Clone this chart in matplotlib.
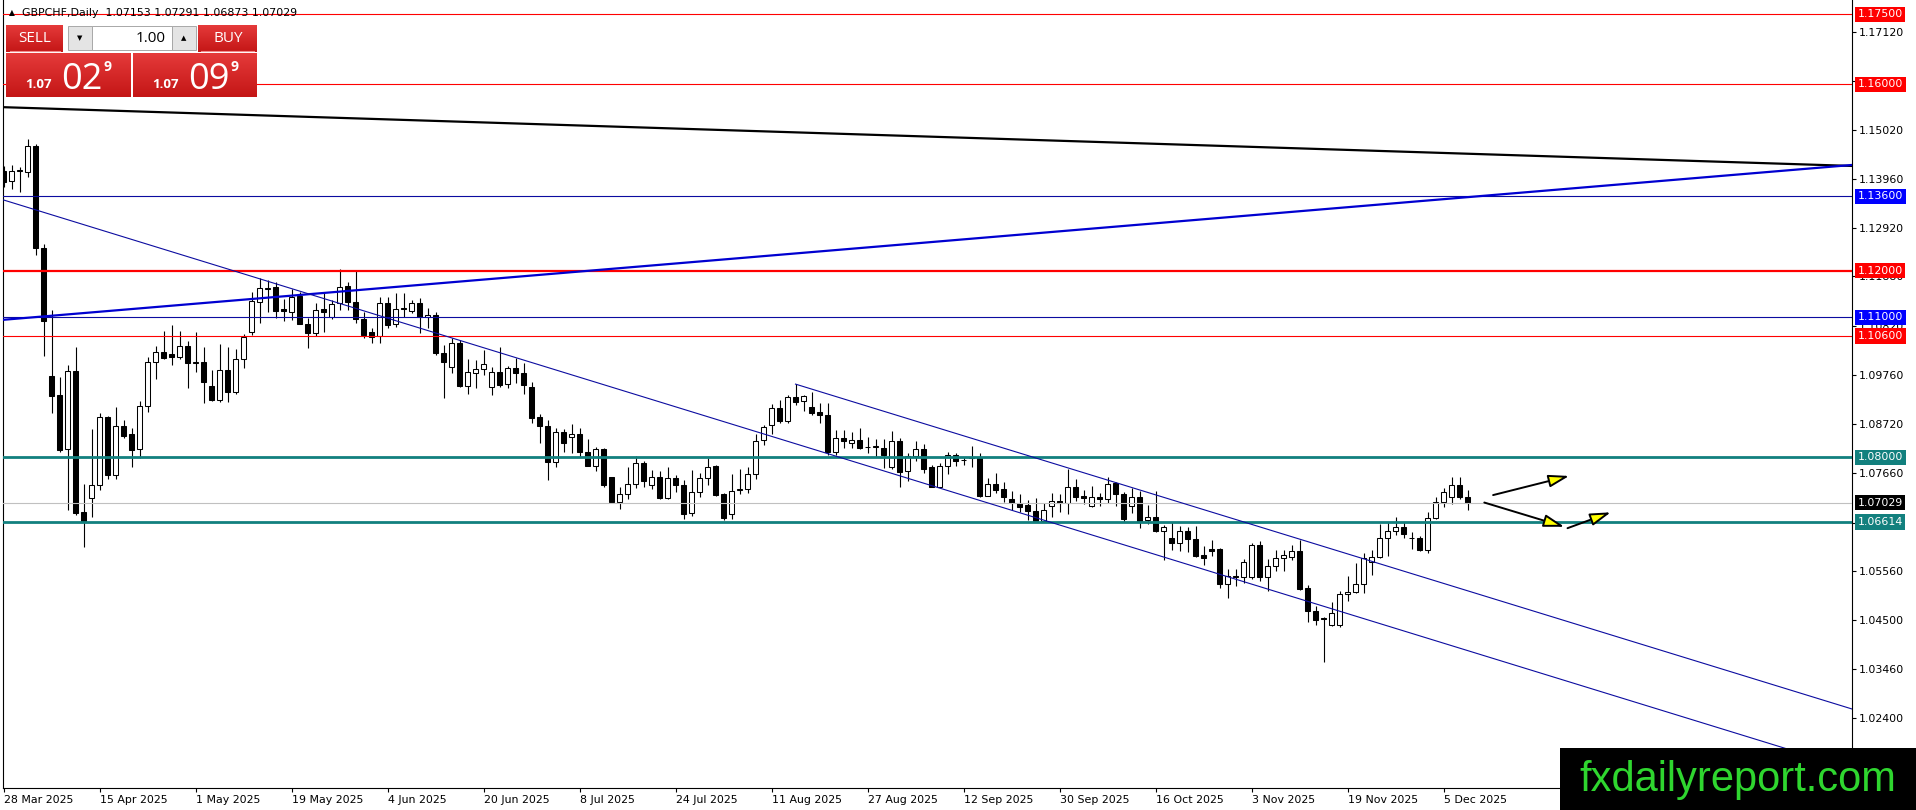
import numpy as np
import matplotlib
matplotlib.use("Agg")
import matplotlib.pyplot as plt
import matplotlib.transforms as mtransforms
from matplotlib.patches import Rectangle
from matplotlib.colors import LinearSegmentedColormap

# Daily GBPCHF bars, 28 Mar 2025 .. 10 Dec 2025
opens = [1.1415, 1.1393, 1.1414, 1.1413, 1.1468, 1.1248, 1.0974, 1.0934, 1.0817, 1.0985,
         1.0682, 1.0712, 1.0740, 1.0886, 1.0761, 1.0868, 1.0850, 1.0817, 1.0910, 1.1004,
         1.1025, 1.1022, 1.1016, 1.1039, 1.1003, 1.1005, 1.0953, 1.0923, 1.0987, 1.0941,
         1.1010, 1.1068, 1.1134, 1.1162, 1.1165, 1.1118, 1.1112, 1.1147, 1.1087, 1.1067,
         1.1118, 1.1100, 1.1130, 1.1167, 1.1134, 1.1097, 1.1068, 1.1060, 1.1130, 1.1086,
         1.1120, 1.1114, 1.1130, 1.1102, 1.1105, 1.1023, 1.0994, 1.1046, 1.0954, 1.0981,
         1.0989, 1.0950, 1.0982, 1.0957, 1.0991, 1.0980, 1.0950, 1.0886, 1.0867, 1.0791,
         1.0854, 1.0843, 1.0851, 1.0811, 1.0782, 1.0817, 1.0757, 1.0705, 1.0721, 1.0742,
         1.0788, 1.0741, 1.0758, 1.0713, 1.0755, 1.0741, 1.0681, 1.0725, 1.0755, 1.0781,
         1.0721, 1.0678, 1.0730, 1.0731, 1.0764, 1.0837, 1.0869, 1.0905, 1.0878, 1.0929,
         1.0921, 1.0907, 1.0897, 1.0891, 1.0812, 1.0841, 1.0830, 1.0837, 1.0823, 1.0823,
         1.0821, 1.0780, 1.0836, 1.0771, 1.0803, 1.0817, 1.0779, 1.0737, 1.0781, 1.0806,
         1.0794, 1.0798, 1.0800, 1.0718, 1.0743, 1.0731, 1.0710, 1.0703, 1.0698, 1.0685,
         1.0664, 1.0696, 1.0706, 1.0701, 1.0736, 1.0718, 1.0696, 1.0715, 1.0710, 1.0744,
         1.0721, 1.0696, 1.0714, 1.0666, 1.0671, 1.0643, 1.0628, 1.0617, 1.0642, 1.0625,
         1.0590, 1.0603, 1.0603, 1.0528, 1.0546, 1.0543, 1.0544, 1.0612, 1.0543, 1.0567,
         1.0585, 1.0587, 1.0599, 1.0519, 1.0471, 1.0455, 1.0440, 1.0440, 1.0506, 1.0512,
         1.0528, 1.0576, 1.0587, 1.0626, 1.0643, 1.0650, 1.0627, 1.0626, 1.0601, 1.0669,
         1.0705, 1.0714, 1.0741, 1.07153]
highs = [1.1425, 1.1427, 1.1423, 1.1482, 1.1471, 1.1258, 1.1117, 1.0972, 1.0998, 1.1037,
         1.0743, 1.0860, 1.0894, 1.0888, 1.0907, 1.0880, 1.0862, 1.0921, 1.1016, 1.1039,
         1.1072, 1.1083, 1.1072, 1.1050, 1.1068, 1.1037, 1.0987, 1.1043, 1.1036, 1.1032,
         1.1064, 1.1154, 1.1185, 1.1180, 1.1177, 1.1140, 1.1160, 1.1155, 1.1098, 1.1132,
         1.1154, 1.1137, 1.1203, 1.1177, 1.1202, 1.1112, 1.1077, 1.1144, 1.1144, 1.1152,
         1.1152, 1.1137, 1.1141, 1.1120, 1.1111, 1.1041, 1.1055, 1.1052, 1.1010, 1.1009,
         1.1030, 1.0994, 1.1036, 1.0996, 1.1014, 1.1002, 1.0961, 1.0893, 1.0880, 1.0862,
         1.0861, 1.0871, 1.0862, 1.0839, 1.0823, 1.0819, 1.0758, 1.0736, 1.0780, 1.0803,
         1.0793, 1.0773, 1.0771, 1.0779, 1.0762, 1.0751, 1.0773, 1.0766, 1.0798, 1.0783,
         1.0723, 1.0764, 1.0776, 1.0779, 1.0851, 1.0869, 1.0914, 1.0924, 1.0934, 1.0957,
         1.0934, 1.0941, 1.0916, 1.0916, 1.0859, 1.0859, 1.0855, 1.0862, 1.0843, 1.0839,
         1.0839, 1.0857, 1.0841, 1.0809, 1.0836, 1.0829, 1.0783, 1.0788, 1.0812, 1.0810,
         1.0801, 1.0825, 1.0809, 1.0756, 1.0767, 1.0746, 1.0728, 1.0721, 1.0708, 1.0712,
         1.0701, 1.0724, 1.0721, 1.0776, 1.0753, 1.0730, 1.0738, 1.0724, 1.0758, 1.0746,
         1.0726, 1.0734, 1.0728, 1.0698, 1.0728, 1.0655, 1.0661, 1.0653, 1.0650, 1.0653,
         1.0610, 1.0623, 1.0605, 1.0560, 1.0560, 1.0581, 1.0617, 1.0621, 1.0581, 1.0601,
         1.0601, 1.0612, 1.0623, 1.0526, 1.0482, 1.0458, 1.0490, 1.0514, 1.0545, 1.0573,
         1.0594, 1.0601, 1.0657, 1.0662, 1.0671, 1.0662, 1.0640, 1.0631, 1.0683, 1.0714,
         1.0734, 1.0758, 1.0758, 1.07291]
lows = [1.1380, 1.1375, 1.1370, 1.1402, 1.1234, 1.1017, 1.0896, 1.0812, 1.0687, 1.0676,
        1.0608, 1.0673, 1.0730, 1.0753, 1.0753, 1.0841, 1.0779, 1.0798, 1.0898, 1.0969,
        1.1010, 1.0998, 1.1011, 1.0948, 1.0983, 1.0917, 1.0921, 1.0918, 1.0918, 1.0936,
        1.0991, 1.1062, 1.1089, 1.1112, 1.1098, 1.1093, 1.1094, 1.1086, 1.1034, 1.1060,
        1.1069, 1.1096, 1.1116, 1.1116, 1.1089, 1.1055, 1.1046, 1.1046, 1.1077, 1.1079,
        1.1102, 1.1109, 1.1066, 1.1077, 1.1019, 1.0928, 1.0981, 1.0950, 1.0936, 1.0948,
        1.0977, 1.0934, 1.0950, 1.0949, 1.0960, 1.0935, 1.0874, 1.0831, 1.0751, 1.0780,
        1.0812, 1.0810, 1.0800, 1.0782, 1.0771, 1.0737, 1.0704, 1.0689, 1.0710, 1.0735,
        1.0737, 1.0731, 1.0710, 1.0710, 1.0726, 1.0668, 1.0675, 1.0714, 1.0741, 1.0717,
        1.0666, 1.0668, 1.0721, 1.0724, 1.0753, 1.0826, 1.0851, 1.0873, 1.0874, 1.0912,
        1.0900, 1.0891, 1.0874, 1.0805, 1.0805, 1.0819, 1.0819, 1.0818, 1.0810, 1.0800,
        1.0778, 1.0776, 1.0737, 1.0750, 1.0793, 1.0766, 1.0736, 1.0736, 1.0764, 1.0781,
        1.0783, 1.0780, 1.0715, 1.0716, 1.0723, 1.0705, 1.0687, 1.0683, 1.0666, 1.0662,
        1.0662, 1.0671, 1.0683, 1.0678, 1.0707, 1.0700, 1.0693, 1.0696, 1.0703, 1.0696,
        1.0662, 1.0680, 1.0648, 1.0657, 1.0640, 1.0580, 1.0601, 1.0598, 1.0596, 1.0587,
        1.0570, 1.0588, 1.0519, 1.0498, 1.0524, 1.0530, 1.0540, 1.0535, 1.0514, 1.0557,
        1.0557, 1.0580, 1.0515, 1.0447, 1.0440, 1.0360, 1.0439, 1.0437, 1.0492, 1.0508,
        1.0508, 1.0548, 1.0585, 1.0589, 1.0633, 1.0626, 1.0603, 1.0600, 1.0595, 1.0667,
        1.0694, 1.0699, 1.0710, 1.06873]
closes = [1.1391, 1.1415, 1.1416, 1.1468, 1.1248, 1.1093, 1.0932, 1.0816, 1.0985, 1.0681,
          1.0664, 1.0740, 1.0886, 1.0761, 1.0867, 1.0846, 1.0816, 1.0910, 1.1004, 1.1025,
          1.1014, 1.1016, 1.1039, 1.1003, 1.1005, 1.0962, 1.0923, 1.0987, 1.0941, 1.1010,
          1.1059, 1.1135, 1.1163, 1.1164, 1.1114, 1.1114, 1.1144, 1.1087, 1.1067, 1.1117,
          1.1111, 1.1128, 1.1166, 1.1134, 1.1096, 1.1062, 1.1059, 1.1130, 1.1084, 1.1118,
          1.1118, 1.1130, 1.1102, 1.1105, 1.1023, 1.1005, 1.1045, 1.0953, 1.0982, 1.0989,
          1.1000, 1.0984, 1.0955, 1.0991, 1.0980, 1.0955, 1.0885, 1.0868, 1.0791, 1.0854,
          1.0831, 1.0851, 1.0811, 1.0782, 1.0817, 1.0741, 1.0705, 1.0721, 1.0742, 1.0788,
          1.0749, 1.0758, 1.0713, 1.0755, 1.0741, 1.0678, 1.0725, 1.0755, 1.0780, 1.0719,
          1.0669, 1.0728, 1.0732, 1.0764, 1.0836, 1.0866, 1.0905, 1.0878, 1.0929, 1.0918,
          1.0932, 1.0894, 1.0891, 1.0812, 1.0841, 1.0836, 1.0837, 1.0821, 1.0822, 1.0823,
          1.0806, 1.0836, 1.0769, 1.0803, 1.0817, 1.0776, 1.0737, 1.0781, 1.0806, 1.0793,
          1.0795, 1.0800, 1.0718, 1.0743, 1.0730, 1.0714, 1.0701, 1.0694, 1.0685, 1.0664,
          1.0688, 1.0706, 1.0701, 1.0736, 1.0715, 1.0712, 1.0714, 1.0710, 1.0743, 1.0721,
          1.0667, 1.0714, 1.0664, 1.0671, 1.0643, 1.0650, 1.0617, 1.0642, 1.0625, 1.0588,
          1.0585, 1.0600, 1.0528, 1.0546, 1.0543, 1.0576, 1.0612, 1.0544, 1.0567, 1.0585,
          1.0590, 1.0599, 1.0517, 1.0471, 1.0451, 1.0454, 1.0465, 1.0506, 1.0512, 1.0528,
          1.0585, 1.0587, 1.0626, 1.0643, 1.0650, 1.0635, 1.0626, 1.0601, 1.0669, 1.0705,
          1.0725, 1.0741, 1.0714, 1.07029]

date_labels = ['28 Mar 2025', '15 Apr 2025', '1 May 2025', '19 May 2025', '4 Jun 2025',
               '20 Jun 2025', '8 Jul 2025', '24 Jul 2025', '11 Aug 2025', '27 Aug 2025',
               '12 Sep 2025', '30 Sep 2025', '16 Oct 2025', '3 Nov 2025', '19 Nov 2025',
               '5 Dec 2025']
bars_per_label = 12

price_ticks = [1.17120, 1.16080, 1.15020, 1.13960, 1.12920, 1.11880, 1.10820, 1.09760,
               1.08720, 1.07660, 1.06600, 1.05560, 1.04500, 1.03460, 1.02400]

# horizontal levels
level_prices = [1.17500, 1.16000, 1.13600, 1.12000, 1.11000, 1.10600, 1.08000, 1.06614]
level_kinds = ['red', 'red', 'blue', 'red_thick', 'blue', 'red', 'teal', 'teal']

# trend lines (bar index, price)
black_line_x = [0, 231]
black_line_y = [1.1551, 1.1425]
blue_line_x = [0, 231]
blue_line_y = [1.1095, 1.1427]
channel_low_x = [0, 231]
channel_low_y = [1.1352, 1.0132]
channel_up_x = [99, 240]
channel_up_y = [1.0957, 1.0213]

# arrows: (bar, price) start -> end
arrow_starts = [(186.2, 1.0719), (185.1, 1.0703), (195.5, 1.0648)]
arrow_ends = [(195.7, 1.0760), (195.1, 1.0651), (200.9, 1.0682)]

bid = 1.07029
ask = 1.07099

W, H = 1916, 810
RED = '#ff0000'
BLUE_LINE = '#0c0ca0'
BLUE_BOX = '#0000ff'
TEAL = '#12807e'
styles = {
    'red': dict(color=RED, lw=0.8, box=RED),
    'red_thick': dict(color=RED, lw=1.6, box=RED),
    'blue': dict(color=BLUE_LINE, lw=0.8, box=BLUE_BOX),
    'teal': dict(color=TEAL, lw=2.0, box=TEAL),
}
AXFONT = 7.9

fig = plt.figure(figsize=(W / 100, H / 100), dpi=100)
fig.patch.set_facecolor('white')
ax = fig.add_axes([2.7 / W, 22 / H, (1852 - 2.7) / W, 788 / H])
ax.set_facecolor('white')

o = np.array(opens)
h = np.array(highs)
l = np.array(lows)
c = np.array(closes)
idx = np.arange(len(o))

# candles
ax.vlines(idx, l, h, color='black', lw=0.8, zorder=2)
body_bottom = np.minimum(o, c)
body_height = np.maximum(np.abs(c - o), 0.00003)
face = np.where(c < o, 'black', 'white')
ax.bar(idx, body_height, bottom=body_bottom, width=0.66, color=face,
       edgecolor='black', linewidth=0.75, zorder=2.1)

# levels
for price, kind in zip(level_prices, level_kinds):
    st = styles[kind]
    ax.axhline(price, color=st['color'], lw=st['lw'], zorder=3)
ax.axhline(bid, color='#c0c0c0', lw=0.8, zorder=2.9)

# trend lines
ax.axline((black_line_x[0], black_line_y[0]), (black_line_x[1], black_line_y[1]),
          color='black', lw=1.6, zorder=3)
ax.axline((blue_line_x[0], blue_line_y[0]), (blue_line_x[1], blue_line_y[1]),
          color='#0000d0', lw=1.6, zorder=3)
ax.axline((channel_low_x[0], channel_low_y[0]), (channel_low_x[1], channel_low_y[1]),
          color=BLUE_LINE, lw=0.8, zorder=3)
ax.plot(channel_up_x, channel_up_y, color=BLUE_LINE, lw=0.8, zorder=3)

# arrows
for s, e in zip(arrow_starts, arrow_ends):
    ax.annotate('', xy=e, xytext=s,
                arrowprops=dict(arrowstyle='-|>,head_length=1.25,head_width=0.38',
                                mutation_scale=10, fc='#ffff00', ec='black', lw=1.4,
                                shrinkA=0, shrinkB=0),
                zorder=4)

ax.set_xlim(-0.1, 231.06)
ax.set_ylim(1.00907, 1.17809)

for sp in ['left', 'right', 'bottom']:
    ax.spines[sp].set_color('black')
    ax.spines[sp].set_linewidth(0.8)
ax.spines['top'].set_visible(False)

ax.set_xticks(idx[::bars_per_label][:len(date_labels)])
ax.set_xticklabels(date_labels)
for lab in ax.get_xticklabels():
    lab.set_ha('left')
ax.yaxis.tick_right()
ax.set_yticks(price_ticks)
ax.set_yticklabels([f'{p:.5f}' for p in price_ticks])
ax.tick_params(axis='both', direction='out', length=3, width=0.8, pad=2,
               labelsize=AXFONT, colors='black')

# price label boxes on the right scale
blend = mtransforms.blended_transform_factory(ax.transAxes, ax.transData)
for price, kind in zip(level_prices, level_kinds):
    ax.annotate(f'{price:.5f}', xy=(1.0, price), xycoords=blend, xytext=(4.0, 0),
                textcoords='offset points', ha='left', va='center', fontsize=AXFONT,
                color='white', annotation_clip=False, zorder=6,
                bbox=dict(boxstyle='square,pad=0.24', fc=styles[kind]['box'], ec='none'))
ax.annotate(f'{bid:.5f}', xy=(1.0, bid), xycoords=blend, xytext=(4.0, 0),
            textcoords='offset points', ha='left', va='center', fontsize=AXFONT,
            color='white', annotation_clip=False, zorder=6,
            bbox=dict(boxstyle='square,pad=0.24', fc='black', ec='none'))

# overlay in pixel space: header, trade panel, logo
ov = fig.add_axes([0, 0, 1, 1])
ov.set_xlim(0, W)
ov.set_ylim(H, 0)
ov.axis('off')
ov.set_zorder(10)

ov.text(12, 13, '\u25b2', fontsize=5.5, ha='center', va='center', color='black')
ov.text(22, 13, f'GBPCHF,Daily  {o[-1]:.5f} {h[-1]:.5f} {l[-1]:.5f} {c[-1]:.5f}',
        fontsize=7.9, ha='left', va='center', color='black')

red_cmap = LinearSegmentedColormap.from_list('redgrad', ['#e53a3a', '#c41616'])
grad = np.linspace(0, 1, 64).reshape(-1, 1)


def red_box(x0, y0, x1, y1):
    ov.imshow(grad, extent=(x0, x1, y1, y0), cmap=red_cmap, aspect='auto',
              interpolation='bilinear', zorder=2)


ov.add_patch(Rectangle((6, 25), 251, 72, fc='white', ec='none', zorder=1))
red_box(6, 25, 63, 52)
red_box(198, 25, 257, 52)
ov.plot([10, 60], [51, 51], color='#f08a8a', lw=0.8, zorder=3)
ov.plot([201, 254], [51, 51], color='#f08a8a', lw=0.8, zorder=3)
ov.add_patch(Rectangle((68, 26), 24, 24, fc='#e4e4e4', ec='#a8a8a8', lw=0.7, zorder=2))
ov.add_patch(Rectangle((92, 26), 80, 24, fc='white', ec='#a8a8a8', lw=0.7, zorder=2))
ov.add_patch(Rectangle((172, 26), 24, 24, fc='#e4e4e4', ec='#a8a8a8', lw=0.7, zorder=2))
ov.text(80, 38, '\u25bc', fontsize=5, ha='center', va='center', color='black', zorder=4)
ov.text(184, 38, '\u25b2', fontsize=5, ha='center', va='center', color='black', zorder=4)
ov.text(166, 38, '1.00', fontsize=11, ha='right', va='center', color='black',
        family='Open Sans', zorder=4)
ov.text(35, 39, 'SELL', fontsize=11, ha='center', va='center', color='white',
        family='Open Sans', zorder=4)
ov.text(228, 39, 'BUY', fontsize=11, ha='center', va='center', color='white',
        family='Open Sans', zorder=4)
red_box(6, 53, 131, 97)
red_box(133, 53, 257, 97)


def quote(x0, value):
    s = f'{value:.5f}'
    ov.text(x0, 88, s[:4], fontsize=9.5, fontweight='bold', ha='left', va='baseline',
            color='white', family='Open Sans', zorder=4)
    ov.text(x0 + 36, 89, s[4:6], fontsize=26, ha='left', va='baseline',
            color='white', family='Open Sans', zorder=4)
    ov.text(x0 + 79, 71, s[6], fontsize=10, fontweight='bold', ha='left',
            va='baseline', color='white', family='Open Sans', zorder=4)


quote(25, bid)
quote(152, ask)

ov.add_patch(Rectangle((1560, 748), W - 1560, H - 748, fc='black', ec='none', zorder=5))
ov.text(1738, 780, 'fxdailyreport.com', fontsize=30, ha='center', va='center',
        color='#2fd62f', family='Liberation Sans', zorder=6)

ov.set_xlim(0, W)
ov.set_ylim(H, 0)

fig.savefig('out.png', dpi=100)
